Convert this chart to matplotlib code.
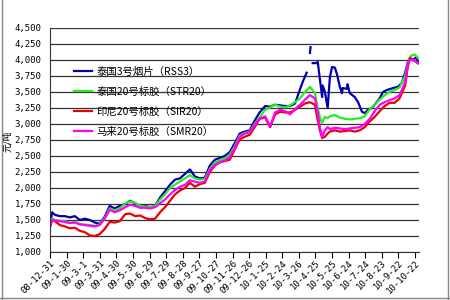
import matplotlib.pyplot as plt
import matplotlib.transforms as mtransforms
import numpy as np

plt.rcParams['font.family'] = ['Noto Sans CJK SC', 'DejaVu Sans']

# days since 2008-12-31
days = [0, 4, 9, 18, 27, 36, 45, 54, 63, 72, 81, 90, 99, 108, 117, 126, 136, 145, 154, 163,
        172, 181, 190, 199, 208, 217, 226, 235, 244, 253, 262, 271, 280, 289, 298, 307, 316, 325, 334, 343,
        352, 361, 370, 379, 389, 398, 407, 416, 425, 434, 443, 452, 461, 470, 479, 484, 488, 492, 497, 502,
        506, 515, 524, 533, 542, 551, 560, 569, 578, 587, 596, 605, 614, 623, 632, 642, 647, 651, 656, 660, 665]

str20 = [1400, 1520, 1500, 1490, 1480, 1460, 1470, 1440, 1430, 1420,
         1410, 1430, 1530, 1680, 1650, 1680, 1760, 1790, 1770, 1720,
         1710, 1700, 1720, 1820, 1900, 2000, 2050, 2100, 2150, 2200,
         2150, 2130, 2140, 2300, 2400, 2430, 2460, 2520, 2650, 2820,
         2860, 2880, 3000, 3100, 3220, 3260, 3300, 3270, 3260, 3290,
         3340, 3400, 3500, 3580, 3480, 3250, 3100, 3020, 3110, 3090,
         3120, 3140, 3100, 3080, 3070, 3080, 3090, 3120, 3230, 3300,
         3380, 3450, 3500, 3530, 3570, 3750, 3950, 4050, 4080, 4080, 4030]

smr20 = [1380, 1500, 1490, 1480, 1470, 1450, 1460, 1430, 1420, 1410,
         1400, 1420, 1520, 1660, 1620, 1650, 1700, 1740, 1720, 1690,
         1690, 1680, 1700, 1760, 1820, 1900, 1970, 2020, 2050, 2120,
         2100, 2080, 2100, 2280, 2360, 2400, 2430, 2480, 2620, 2800,
         2850, 2870, 2980, 3080, 3120, 2960, 3180, 3220, 3200, 3150,
         3230, 3300, 3380, 3450, 3400, 3180, 2950, 2800, 2900, 2950,
         2920, 2940, 2930, 2920, 2930, 2940, 2950, 3000, 3080, 3200,
         3300, 3340, 3370, 3400, 3450, 3650, 3950, 4000, 4000, 3990, 3950]

sir20 = [1400, 1500, 1480, 1420, 1400, 1370, 1380, 1330, 1310, 1260,
         1250, 1280, 1360, 1470, 1460, 1480, 1590, 1600, 1560, 1570,
         1530, 1510, 1520, 1620, 1700, 1800, 1900, 1960, 2000, 2080,
         2020, 2060, 2080, 2250, 2350, 2400, 2420, 2440, 2600, 2760,
         2800, 2830, 2950, 3080, 3100, 2950, 3150, 3190, 3180, 3180,
         3220, 3270, 3320, 3340, 3300, 3060, 2900, 2780, 2800, 2850,
         2880, 2900, 2880, 2890, 2900, 2880, 2900, 2950, 3040, 3110,
         3200, 3280, 3330, 3330, 3400, 3600, 3900, 4030, 4000, 3980, 3950]

# RSS3 has missing quotes around 2010-04
rss3_days = days[:51] + [452, 457, 461, 464, 466, 470, 471, 472, 475, 482, 484, 488, 492, 493, 497, 502,
                         506, 510, 515, 519, 524, 528, 529, 537, 538, 542, 551, 557, 564, 569, 575,
                         582, 587, 596, 602, 609, 620, 629, 636, 642, 647, 651, 656, 663, 665]
rss3 = [1420, 1620, 1580, 1560, 1560, 1540, 1560, 1500, 1520, 1500,
        1460, 1440, 1550, 1720, 1680, 1720, 1750, 1800, 1760, 1720,
        1720, 1700, 1720, 1850, 1950, 2050, 2130, 2150, 2220, 2290,
        2180, 2150, 2160, 2350, 2440, 2470, 2500, 2560, 2700, 2850,
        2880, 2900, 3050, 3180, 3280, 3270, 3300, 3290, 3280, 3280,
        3320, 3540, 3660, 3740, 3800, np.nan, 4110, 4200, np.nan, 3950, 3950, 3970, 3700, 3420, 3600, 3500,
        3250, 3730, 3890, 3880, 3770, 3580, 3480, 3560, 3550, 3620, 3480, 3420, 3340, 3190, 3170, 3220,
        3250, 3300, 3400, 3500, 3530, 3560, 3580, 3640, 3800, 3970, 4030, 4000, 4050, 3950]

tick_labels = ['08-12-31', '09-1-30', '09-3-1', '09-3-31', '09-4-30', '09-5-30', '09-6-29',
               '09-7-29', '09-8-28', '09-9-27', '09-10-27', '09-11-26', '09-12-26', '10-1-25',
               '10-2-24', '10-3-26', '10-4-25', '10-5-25', '10-6-24', '10-7-24', '10-8-23',
               '10-9-22', '10-10-22']
yticks = np.arange(1000, 4501, 250)

fig = plt.figure(figsize=(4.5, 3), dpi=100)
ax = fig.add_axes([0.111, 0.16, 0.82, 0.747])

ax.plot(rss3_days, rss3, color='#0000B0', lw=1.6, label='泰国3号烟片（RSS3）')
ax.plot(days, str20, color='#22EE22', lw=1.6, label='泰国20号标胶（STR20）')
ax.plot(days, sir20, color='#EE0000', lw=1.6, label='印尼20号标胶（SIR20）')
ax.plot(days, smr20, color='#FF00FF', lw=1.6, label='马来20号标胶（SMR20）')

ax.set_xlim(0, 667)
ax.set_ylim(1000, 4500)
ax.set_yticks(yticks)
ax.set_yticklabels(['{:,}'.format(v) for v in yticks], family='DejaVu Sans Mono', fontsize=6.5)
ax.set_xticks(np.arange(0, 661, 30))
ax.set_xticklabels(tick_labels, rotation=45, ha='right', va='top', rotation_mode='anchor',
                   family='DejaVu Sans Mono', fontsize=6.5)
offset = mtransforms.ScaledTranslation(-8 / 72, -4 / 72, fig.dpi_scale_trans)
for lab in ax.get_xticklabels():
    lab.set_transform(lab.get_transform() + offset)

ax.grid(axis='y', color='#333333', lw=0.9)
ax.set_axisbelow(True)
ax.tick_params(axis='y', length=0, pad=6)
ax.tick_params(axis='x', direction='out', length=4, width=0.8, pad=1)
for s in ['top', 'right']:
    ax.spines[s].set_visible(False)
ax.spines['left'].set_color('#333333')
ax.spines['bottom'].set_color('#333333')

ax.legend(loc='upper left', bbox_to_anchor=(0.055, 0.845), frameon=False, fontsize=7.5,
          handlelength=1.7, handletextpad=0.4, labelspacing=0.95, borderaxespad=0)

fig.text(0.016, 0.53, '元/吨', rotation=90, ha='center', va='center', fontsize=6.5)

border = dict(color='#888888', lw=1, transform=fig.transFigure)
fig.add_artist(plt.Line2D([0.004, 0.004], [0.0, 1.0], **border))
fig.add_artist(plt.Line2D([0.996, 0.996], [0.0, 1.0], **border))
fig.add_artist(plt.Line2D([0.0, 1.0], [0.006, 0.006], **border))

fig.savefig('out.png', dpi=100)
